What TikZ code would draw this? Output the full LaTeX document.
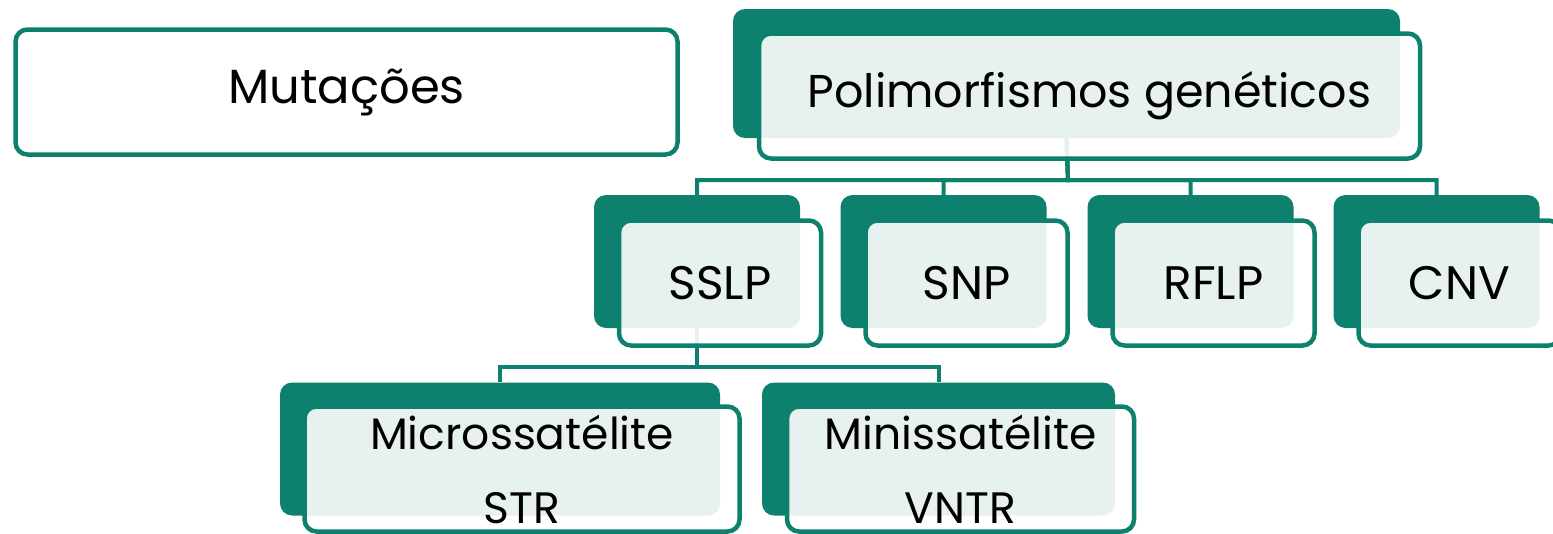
\documentclass[tikz,border=0pt]{standalone}
\usepackage{fontspec}
\setmainfont{Poppins}
\definecolor{mteal}{RGB}{14,128,110}
\tikzset{
  backbox/.style={fill=mteal, rounded corners=12pt, minimum height=133pt, inner sep=0pt},
  frontbox/.style={draw=mteal, line width=4.5pt, fill=white, fill opacity=0.9, text opacity=1,
    rounded corners=12pt, minimum height=125pt, inner sep=0pt, align=center},
  conn/.style={draw=mteal, line width=4pt},
}
\begin{document}
\begin{tikzpicture}[x=1pt, y=-1pt]
\useasboundingbox (0,0) rectangle (1553,533);
% back boxes
\node[backbox, minimum width=667pt, minimum height=129pt] (poli) at (1066.5,73.5) {};
\node[backbox, minimum width=206pt] (sslp) at (697,261.5) {};
\node[backbox, minimum width=206pt] (snp) at (943.5,261.5) {};
\node[backbox, minimum width=206pt] (rflp) at (1190.5,261.5) {};
\node[backbox, minimum width=206pt] (cnv) at (1436.5,261.5) {};
\node[backbox, minimum width=440pt] (micro) at (500,449) {};
\node[backbox, minimum width=353pt] (mini) at (938.5,449) {};
% connectors
\coordinate (polibus) at (1068,180);
\coordinate (sslpbus) at (697,367);
\foreach \kid in {sslp, snp, rflp, cnv}
  \draw[conn] (poli.south) -- (polibus) -| (\kid.north);
\draw[conn] (sslp.south) -- (sslpbus) -| (micro.north);
\draw[conn] (sslp.south) -- (sslpbus) -| (mini.north);
% front boxes
\node[frontbox, minimum width=662pt, font=\fontsize{48}{58}\selectfont] (mut) at (346.5,92) {Mutações};
\node[frontbox, minimum width=661pt, font=\fontsize{46}{56}\selectfont] (polif) at ([shift={(23,22.5)}]poli) {Polimorfismos genéticos};
\node[frontbox, minimum width=202pt, font=\fontsize{47}{56}\selectfont] (sslpf) at ([shift={(23,21.5)}]sslp) {SSLP};
\node[frontbox, minimum width=202pt, font=\fontsize{47}{56}\selectfont] (snpf) at ([shift={(23,21.5)}]snp) {SNP};
\node[frontbox, minimum width=202pt, font=\fontsize{47}{56}\selectfont] (rflpf) at ([shift={(23,21.5)}]rflp) {RFLP};
\node[frontbox, minimum width=202pt, font=\fontsize{47}{56}\selectfont] (cnvf) at ([shift={(23,21.5)}]cnv) {CNV};
\node[frontbox, minimum width=435pt, font=\fontsize{44}{74}\selectfont] (microf) at ([shift={(22,20)}]micro) {Microssatélite\\STR};
\node[frontbox, minimum width=347pt, font=\fontsize{44}{74}\selectfont] (minif) at ([shift={(22,20)}]mini) {Minissatélite\\VNTR};
\end{tikzpicture}
\end{document}
